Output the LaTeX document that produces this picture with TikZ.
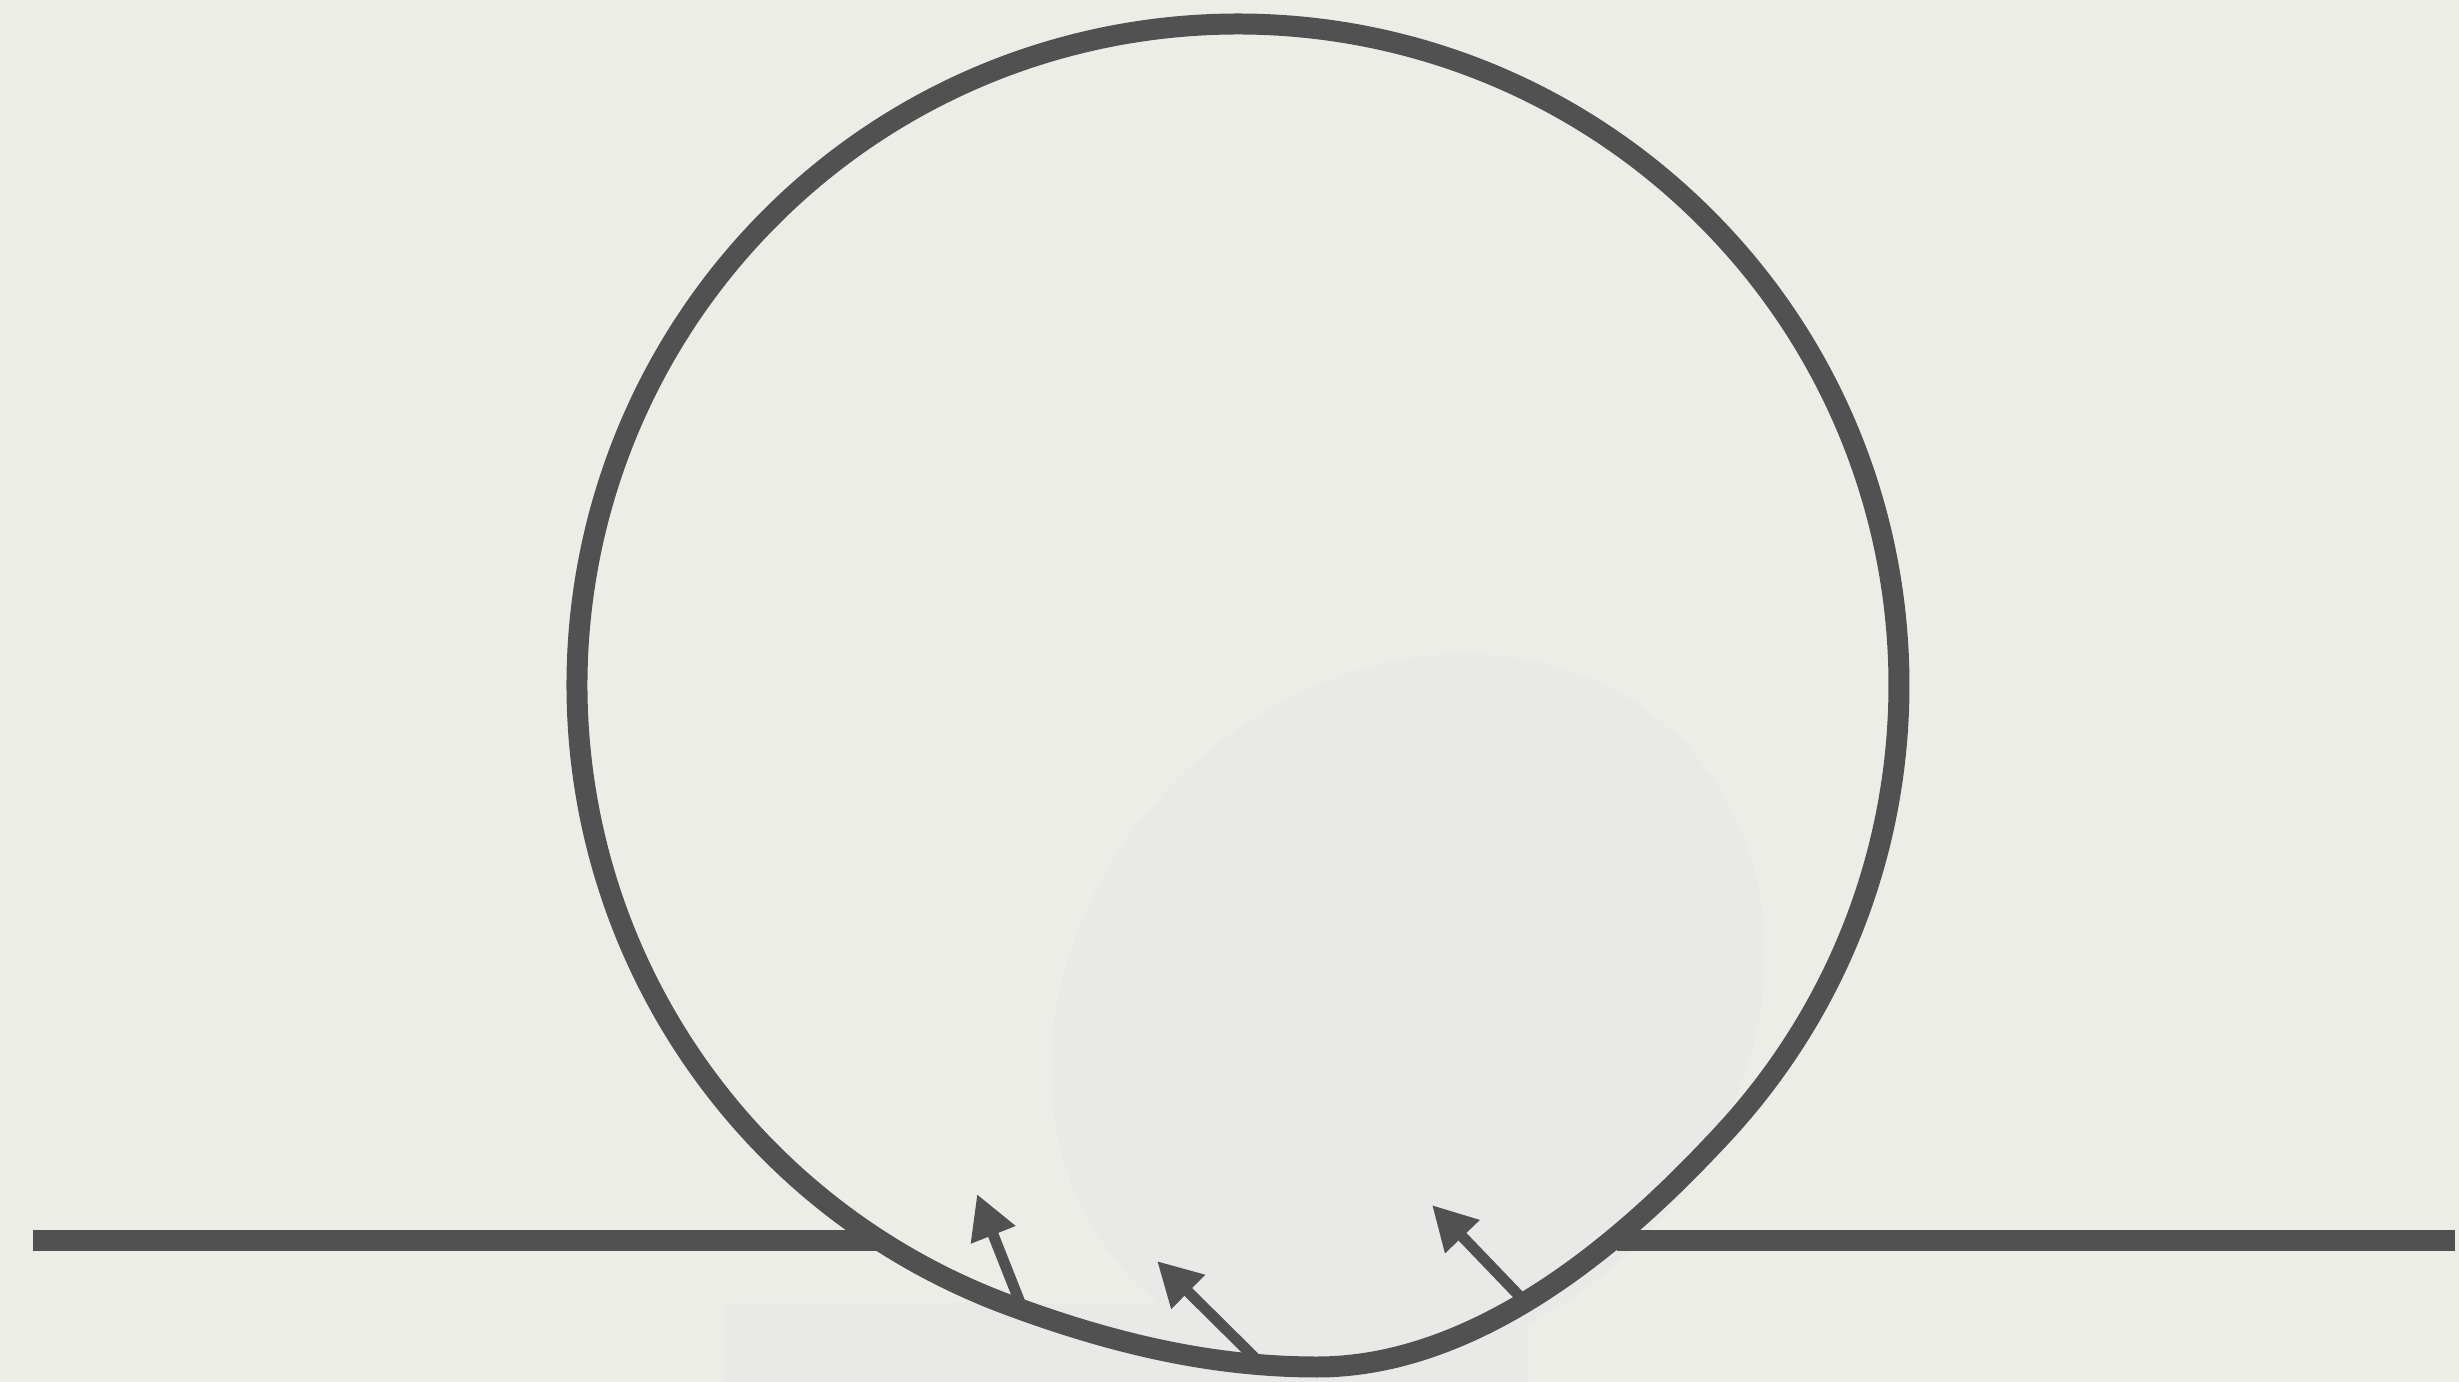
\documentclass[tikz,border=0pt]{standalone}
\usetikzlibrary{arrows.meta}
\definecolor{paper}{RGB}{237,237,232}
\definecolor{blobc}{RGB}{233,233,232}
\definecolor{ink}{RGB}{81,81,81}
\begin{document}
\begin{tikzpicture}[x=0.01cm,y=-0.01cm,
  heavy/.style={draw=ink,line width=5.97pt},
  normalarrow/.style={draw=ink,line width=3.1pt,-{Triangle[length=12.5pt,width=12.8pt]}},
  patch/.style={fill=blobc}]
% canvas
\fill[paper] (0,0) rectangle (2459,1382);
\useasboundingbox (0,0) rectangle (2459,1382);
% faint patches
\fill[patch, rotate around={45:(1408,1011)}] (1408,1011) ellipse[x radius=385, y radius=327];
\fill[patch] (724,1303) rectangle (1528,1382);
% coordinates
\coordinate (lstart) at (33,1240);
\coordinate (lend) at (879,1240);
\coordinate (rstart) at (1617,1240);
\coordinate (rend) at (2455,1240);
\coordinate (arcstart) at (1721.4,1135.8);
\coordinate (low) at (1317,1367);
\coordinate (b1) at (1021,1305);
\coordinate (t1) at (977,1194);
\coordinate (b2) at (1255,1358);
\coordinate (t2) at (1157,1261);
\coordinate (b3) at (1528,1305);
\coordinate (t3) at (1432,1205);
% horizontal ground line
\draw[heavy] (lstart) -- (lend);
\draw[heavy] (rstart) -- (rend);
% loop with deformed bottom
\draw[heavy] (arcstart) arc[start angle=43, end angle=-249, radius=661]
  .. controls (1104,1341) and (1207,1367) .. (low)
  .. controls (1497,1367) and (1653,1209) .. (arcstart);
% normal arrows
\draw[normalarrow] (b1) -- (t1);
\draw[normalarrow] (b2) -- (t2);
\draw[normalarrow] (b3) -- (t3);
\end{tikzpicture}
\end{document}
